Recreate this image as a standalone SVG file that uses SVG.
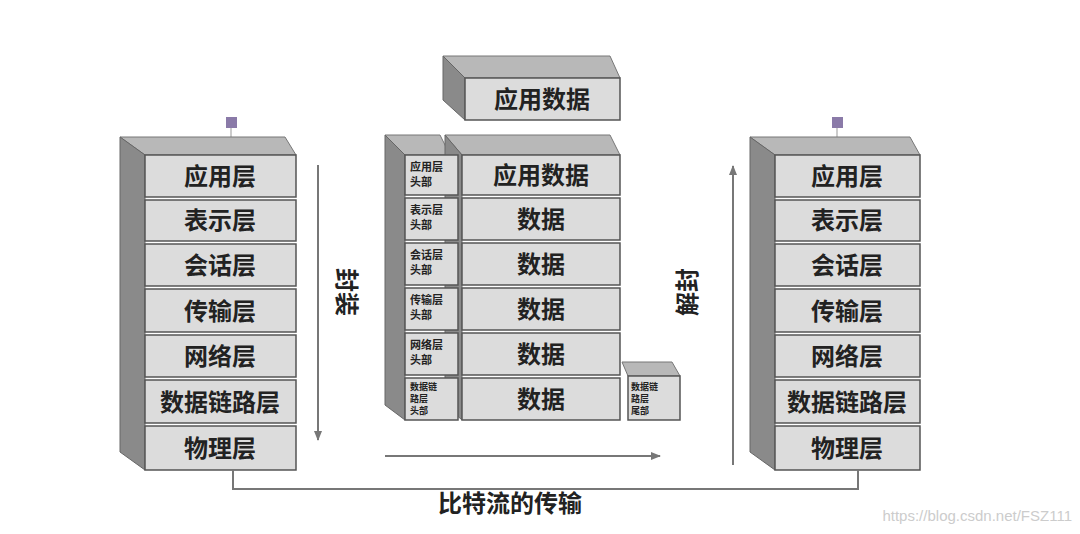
<svg xmlns="http://www.w3.org/2000/svg" width="1080" height="534" viewBox="0 0 1080 534">
<defs>
<style>
.f{fill:#dcdcdc;stroke:#555;stroke-width:1.5}
.s{fill:#8a8a8a;stroke:#666;stroke-width:1}
.t{fill:#b8b8b8;stroke:#777;stroke-width:1}
.tx{font-family:"Noto Sans CJK SC",sans-serif;font-size:24px;fill:#222;text-anchor:middle;font-weight:bold}
.sm{font-family:"Noto Sans CJK SC",sans-serif;font-size:11px;fill:#222;font-weight:bold}
.ln{stroke:#777;stroke-width:2;fill:none}
</style>
<marker id="a" markerWidth="10" markerHeight="8" refX="9" refY="4" orient="auto" markerUnits="userSpaceOnUse"><path d="M0,0L10,4L0,8z" fill="#777"/></marker>
</defs>
<rect width="1080" height="534" fill="#fff"/>
<g id="left-stack">
<rect x="226" y="117" width="11" height="11" fill="#8a7aa8"/>
<line x1="231" y1="128" x2="231" y2="137" stroke="#999"/>
<polygon class="t" points="120,137 285,137 296,155 145,155"/>
<polygon class="s" points="120,137 145,155 145,470 120,452"/>
<rect class="f" x="145" y="155" width="151" height="42"/><text class="tx" x="220" y="185">应用层</text>
<rect class="f" x="145" y="200" width="151" height="41"/><text class="tx" x="220" y="229">表示层</text>
<rect class="f" x="145" y="244" width="151" height="42"/><text class="tx" x="220" y="274">会话层</text>
<rect class="f" x="145" y="289" width="151" height="43"/><text class="tx" x="220" y="320">传输层</text>
<rect class="f" x="145" y="335" width="151" height="42"/><text class="tx" x="220" y="365">网络层</text>
<rect class="f" x="145" y="380" width="151" height="43"/><text class="tx" x="220" y="411">数据链路层</text>
<rect class="f" x="145" y="426" width="151" height="44"/><text class="tx" x="220" y="457">物理层</text>
</g>
<g id="right-stack">
<rect x="832" y="117" width="11" height="11" fill="#8a7aa8"/>
<line x1="837" y1="128" x2="837" y2="137" stroke="#999"/>
<polygon class="t" points="750,137 910,137 920,155 775,155"/>
<polygon class="s" points="750,137 775,155 775,470 750,452"/>
<rect class="f" x="775" y="155" width="145" height="42"/><text class="tx" x="847" y="185">应用层</text>
<rect class="f" x="775" y="200" width="145" height="41"/><text class="tx" x="847" y="229">表示层</text>
<rect class="f" x="775" y="244" width="145" height="42"/><text class="tx" x="847" y="274">会话层</text>
<rect class="f" x="775" y="289" width="145" height="43"/><text class="tx" x="847" y="320">传输层</text>
<rect class="f" x="775" y="335" width="145" height="42"/><text class="tx" x="847" y="365">网络层</text>
<rect class="f" x="775" y="380" width="145" height="43"/><text class="tx" x="847" y="411">数据链路层</text>
<rect class="f" x="775" y="426" width="145" height="44"/><text class="tx" x="847" y="457">物理层</text>
</g>
<g id="app-data-top">
<polygon class="t" points="443,56 610,56 620,78 465,78"/>
<polygon class="s" points="443,56 465,78 465,120 443,100"/>
<rect class="f" x="465" y="78" width="155" height="42"/><text class="tx" x="542" y="108">应用数据</text>
</g>
<g id="middle-stack">
<polygon class="t" points="385,135 440,135 450,155 405,155"/>
<polygon class="s" points="385,135 405,155 405,420 385,405"/>
<polygon class="t" points="445,135 610,135 620,155 462,155"/>
<polygon class="s" points="445,135 462,155 462,420 445,405"/>
<g class="sm">
<rect class="f" x="405" y="155" width="53" height="40"/><text x="410" y="171">应用层</text><text x="410" y="186">头部</text>
<rect class="f" x="405" y="198" width="53" height="42"/><text x="410" y="214">表示层</text><text x="410" y="229">头部</text>
<rect class="f" x="405" y="243" width="53" height="42"/><text x="410" y="259">会话层</text><text x="410" y="274">头部</text>
<rect class="f" x="405" y="288" width="53" height="42"/><text x="410" y="304">传输层</text><text x="410" y="319">头部</text>
<rect class="f" x="405" y="333" width="53" height="42"/><text x="410" y="349">网络层</text><text x="410" y="364">头部</text>
<rect class="f" x="405" y="378" width="53" height="42"/><text x="410" y="390" font-size="9">数据链</text><text x="410" y="402" font-size="9">路层</text><text x="410" y="414" font-size="9">头部</text>
</g>
<rect class="f" x="462" y="155" width="158" height="40"/><text class="tx" x="541" y="184">应用数据</text>
<rect class="f" x="462" y="198" width="158" height="42"/><text class="tx" x="541" y="228">数据</text>
<rect class="f" x="462" y="243" width="158" height="42"/><text class="tx" x="541" y="273">数据</text>
<rect class="f" x="462" y="288" width="158" height="42"/><text class="tx" x="541" y="318">数据</text>
<rect class="f" x="462" y="333" width="158" height="42"/><text class="tx" x="541" y="363">数据</text>
<rect class="f" x="462" y="378" width="158" height="42"/><text class="tx" x="541" y="408">数据</text>
</g>
<g id="trailer">
<polygon class="t" points="622,362 672,362 680,376 628,376"/>
<rect class="f" x="628" y="376" width="52" height="44"/>
<g class="sm" font-size="9"><text x="631" y="390" font-size="9">数据链</text><text x="631" y="402" font-size="9">路层</text><text x="631" y="414" font-size="9">尾部</text></g>
</g>
<g id="connectors">
<line class="ln" x1="318" y1="165" x2="318" y2="440" marker-end="url(#a)"/>
<line class="ln" x1="733" y1="465" x2="733" y2="166" marker-end="url(#a)"/>
<line class="ln" x1="385" y1="456" x2="660" y2="456" marker-end="url(#a)"/>
<polyline class="ln" points="233,470 233,489 858,489 858,470"/>
</g>
<g id="labels">
<text class="tx" transform="translate(338,292) rotate(90)" font-size="22">封装</text>
<text class="tx" transform="translate(696,292) rotate(-90)" font-size="22">解封</text>
<text class="tx" x="510" y="512">比特流的传输</text>
<text x="1072" y="521" font-family="Liberation Sans,sans-serif" font-size="15" fill="#ccc" text-anchor="end">https://blog.csdn.net/FSZ111</text>
</g>
</svg>
